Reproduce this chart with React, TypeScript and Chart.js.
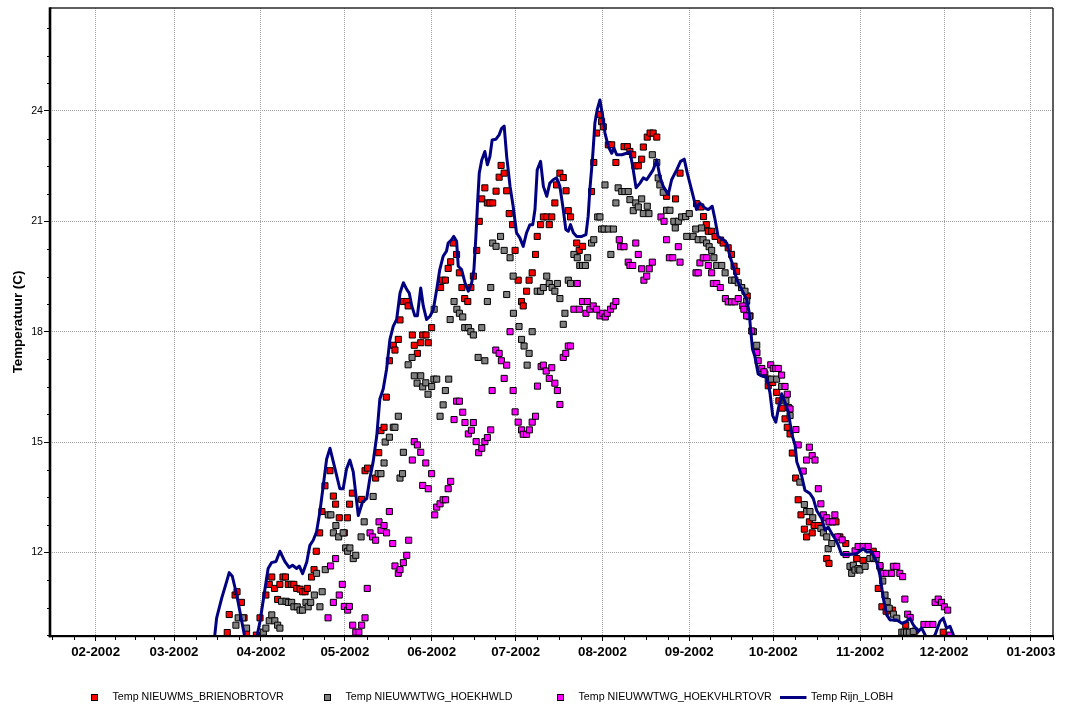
import { useEffect, useRef } from 'react';
import { Chart, registerables } from 'chart.js';

Chart.register(...registerables);

const FONT = '"Liberation Sans", Arial, Helvetica, sans-serif';

// Days are counted from 1 January 2002 (= day 0).
const monthTickDays = [31, 59, 90, 120, 151, 181, 212, 243, 273, 304, 334, 365];
const monthTickLabels = [
  '02-2002', '03-2002', '04-2002', '05-2002', '06-2002', '07-2002',
  '08-2002', '09-2002', '10-2002', '11-2002', '12-2002', '01-2003',
];
// month starts used for the quarter-month minor tick marks (1 Jan 2002 .. 1 Feb 2003)
const monthBoundaries = [0, ...monthTickDays, 396];
const tempTicks = [12, 15, 18, 21, 24];

const seriesNames = [
  'Temp NIEUWMS_BRIENOBRTOVR',
  'Temp NIEUWWTWG_HOEKHWLD',
  'Temp NIEUWWTWG_HOEKVHLRTOVR',
  'Temp Rijn_LOBH',
];

// Temp NIEUWMS_BRIENOBRTOVR
const brienDays = [
  78.0, 78.7, 80.8, 81.5, 83.1, 84.0, 84.9, 88.4, 89.7, 91.8, 93.0, 93.9, 94.9, 96.0, 96.8, 97.9,
  98.8, 99.8, 100.9, 101.8, 102.8, 104.0, 104.9, 105.8, 106.6, 108.1, 109.0, 109.8, 111.0, 111.8,
  112.9, 114.7, 115.9, 116.7, 118.0, 119.8, 120.9, 121.7, 122.7, 126.0, 127.2, 128.1, 131.0, 132.1,
  132.9, 134.0, 134.8, 135.9, 137.3, 137.9, 139.1, 139.7, 140.9, 142.1, 142.6, 144.1, 144.8, 145.9,
  147.1, 147.8, 149.0, 149.8, 151.0, 154.2, 154.9, 155.9, 156.9, 157.8, 158.7, 159.9, 160.9, 161.8,
  162.8, 163.9, 165.0, 165.9, 167.1, 168.0, 168.9, 170.0, 170.9, 171.8, 172.8, 174.0, 175.1, 175.8,
  176.9, 177.8, 178.7, 179.9, 180.8, 181.9, 183.1, 183.7, 184.9, 185.8, 186.9, 188.1, 188.7, 189.9,
  190.9, 192.1, 193.0, 193.9, 195.0, 195.6, 196.8, 198.0, 199.0, 199.8, 200.6, 202.8, 203.7, 204.9,
  208.1, 208.9, 209.9, 211.1, 211.7, 212.3, 214.1, 215.3, 216.8, 219.7, 220.9, 221.8, 222.8, 223.6,
  224.8, 226.0, 226.6, 228.0, 229.0, 230.1, 231.4, 234.9, 238.1, 239.7, 245.6, 247.1, 248.1, 249.1,
  249.8, 251.0, 252.2, 254.2, 255.1, 256.9, 258.1, 259.0, 259.9, 261.7, 263.7, 264.7, 267.1, 270.0,
  271.2, 272.8, 274.2, 275.0, 276.2, 277.2, 278.0, 279.0, 279.8, 281.0, 281.9, 282.9, 284.1, 284.9,
  285.9, 286.9, 287.6, 289.1, 292.1, 292.9, 293.9, 295.4, 296.8, 298.9, 302.8, 305.1, 308.7, 310.5,
  311.8, 313.3, 315.6, 320.3, 323.6, 333.7,
];
const brienTemps = [
  9.82, 10.31, 10.84, 10.93, 10.64, 10.22, 9.82, 9.75, 10.22, 10.84, 11.13, 11.33, 11.02, 10.72, 11.13, 11.33,
  11.33, 11.13, 11.13, 11.13, 11.02, 11.0, 10.93, 10.93, 11.02, 11.33, 11.53, 12.03, 12.53, 13.11,
  13.81, 14.22, 13.53, 13.31, 12.94, 12.53, 12.94, 13.31, 13.61, 13.44, 14.22, 14.29, 14.02, 14.71,
  15.31, 15.4, 16.22, 17.21, 17.63, 17.5, 17.79, 18.32, 18.82, 18.82, 18.7, 17.91, 17.63, 17.41,
  17.7, 17.91, 17.91, 17.7, 18.11, 19.2, 19.4, 19.4, 19.72, 19.9, 20.41, 20.1, 19.6, 19.2,
  18.9, 18.82, 19.2, 19.51, 20.21, 21.0, 21.61, 21.91, 21.5, 21.5, 21.5, 21.82, 22.2, 22.52,
  22.31, 21.83, 21.21, 20.91, 20.21, 19.4, 18.82, 18.7, 19.1, 19.4, 19.6, 20.1, 20.59, 20.91,
  21.12, 21.12, 20.91, 21.12, 21.5, 21.99, 22.31, 22.19, 21.83, 21.29, 21.12, 20.41, 20.21, 20.32,
  21.81, 22.6, 23.4, 23.91, 23.71, 23.57, 23.08, 23.08, 22.6, 23.03, 23.03, 22.9, 22.81, 22.51,
  22.51, 22.69, 23.02, 23.29, 23.4, 23.4, 23.29, 21.68, 21.61, 22.31, 21.48, 21.39, 21.13, 20.91,
  20.73, 20.73, 20.59, 20.49, 20.41, 20.28, 20.1, 19.78, 19.64, 19.2, 18.97, 18.43, 17.43, 16.85,
  16.53, 16.62, 16.35, 16.12, 15.92, 15.63, 15.4, 15.22, 14.7, 14.02, 13.43, 13.02, 12.63, 12.42,
  12.83, 12.53, 12.73, 12.73, 11.83, 11.7, 12.83, 12.83, 12.42, 12.24, 11.83, 11.78, 12.03, 11.02,
  10.52, 10.4, 10.43, 10.02, 9.86, 9.83,
];

// Temp NIEUWWTWG_HOEKHWLD
const hoekDays = [
  81.1, 81.9, 83.5, 84.9, 90.9, 91.8, 93.0, 93.9, 95.0, 96.0, 96.8, 97.4, 99.0, 99.8, 101.0, 101.8,
  103.0, 104.0, 104.9, 106.1, 106.9, 107.8, 109.1, 109.9, 111.1, 111.9, 113.0, 114.1, 115.0, 115.9,
  116.8, 117.8, 119.4, 120.3, 121.0, 121.8, 123.0, 123.9, 125.8, 126.9, 130.1, 131.9, 132.9, 134.0,
  134.4, 135.9, 137.3, 137.9, 139.1, 139.7, 140.6, 140.9, 142.6, 144.0, 144.8, 145.8, 147.1, 147.8,
  148.9, 149.7, 151.0, 151.8, 151.9, 152.8, 154.0, 155.1, 155.9, 157.1, 157.6, 159.0, 160.0, 160.9,
  162.1, 162.8, 164.1, 165.0, 165.9, 167.6, 168.9, 170.0, 170.9, 172.1, 172.8, 174.0, 175.6, 176.9,
  177.8, 179.0, 180.1, 180.2, 182.2, 183.1, 184.0, 185.1, 185.8, 186.9, 188.7, 189.9, 190.9, 192.1,
  193.0, 194.0, 195.0, 195.9, 196.8, 198.0, 198.6, 199.8, 200.6, 201.8, 203.0, 203.9, 204.9, 205.9,
  206.7, 208.1, 208.9, 210.3, 211.1, 211.7, 212.6, 212.9, 214.1, 215.0, 215.9, 216.8, 217.6, 218.9,
  220.0, 221.2, 221.8, 223.0, 223.9, 224.8, 226.0, 226.6, 228.0, 228.6, 229.8, 231.4, 231.9, 232.5,
  233.7, 234.9, 236.1, 237.5, 238.0, 239.1, 240.3, 241.7, 242.1, 243.0, 244.4, 245.3, 246.2, 247.4,
  247.9, 249.2, 250.1, 251.0, 251.8, 252.8, 254.6, 255.8, 258.1, 259.3, 260.5, 261.7, 262.9, 263.5,
  264.4, 265.9, 267.1, 268.9, 271.2, 272.4, 274.2, 276.0, 277.5, 278.4, 279.0, 282.5, 284.1, 284.9,
  286.1, 287.1, 290.0, 290.9, 292.1, 292.6, 293.9, 300.4, 301.0, 301.6, 302.2, 303.3, 303.9, 305.8,
  307.5, 308.7, 309.7, 311.1, 312.1, 312.9, 313.7, 314.4, 315.9, 317.1, 318.9, 319.7, 320.6, 321.6,
  323.0,
];
const hoekTemps = [
  10.02, 10.22, 10.22, 9.94, 9.83, 9.94, 10.14, 10.3, 10.14, 10.02, 9.94, 10.67, 10.67, 10.64, 10.64, 10.52,
  10.52, 10.43, 10.43, 10.64, 10.52, 10.64, 10.84, 11.43, 10.52, 10.93, 11.53, 13.02, 13.02, 12.53,
  12.73, 12.42, 12.53, 12.12, 12.03, 12.12, 11.83, 11.92, 12.42, 12.83, 13.52, 14.14, 14.14, 14.43,
  15.0, 15.13, 15.4, 15.4, 15.7, 14.02, 14.14, 14.72, 17.1, 17.3, 16.8, 16.6, 16.8, 16.5,
  16.61, 16.3, 16.51, 16.71, 18.61, 16.71, 15.7, 16.01, 16.4, 16.71, 18.33, 18.82, 18.61, 18.5,
  18.4, 18.11, 18.11, 18.0, 17.91, 17.3, 18.11, 17.21, 18.82, 19.2, 20.41, 20.32, 20.59, 20.21,
  19.01, 20.01, 19.51, 18.5, 18.14, 17.79, 17.61, 17.09, 17.41, 18.0, 19.1, 19.1, 19.2, 19.51,
  19.31, 19.2, 19.1, 19.31, 18.9, 18.2, 18.5, 19.4, 19.31, 20.1, 20.01, 19.8, 19.8, 19.8,
  20.01, 20.41, 20.5, 21.12, 21.12, 20.79, 20.79, 21.99, 20.79, 20.1, 20.79, 21.5, 21.91, 21.81,
  21.81, 21.81, 21.59, 21.29, 21.5, 21.39, 21.61, 21.21, 21.41, 21.21, 22.81, 22.6, 22.18, 21.99,
  21.79, 21.3, 21.3, 21.0, 20.82, 21.0, 21.12, 21.13, 20.59, 21.21, 20.59, 20.79, 20.5, 20.82,
  20.5, 20.41, 20.31, 20.21, 20.01, 19.8, 19.8, 19.6, 19.4, 19.4, 19.33, 19.2, 19.1, 18.83,
  18.41, 18.0, 17.63, 16.89, 16.71, 16.71, 16.71, 16.51, 16.12, 15.94, 15.72, 13.91, 13.3, 13.11,
  13.11, 12.94, 12.65, 12.53, 12.42, 12.1, 12.24, 11.62, 11.43, 11.65, 11.52, 11.56, 11.52, 11.62,
  11.83, 11.85, 11.83, 11.62, 11.22, 10.84, 10.66, 10.48, 10.32, 10.21, 9.83, 9.83, 9.83, 9.83,
  9.85,
];

// Temp NIEUWWTWG_HOEKVHLRTOVR
const hoekvDays = [
  114.0, 114.9, 115.9, 116.7, 118.0, 119.1, 119.8, 121.0, 121.6, 122.8, 123.9, 125.0, 126.0, 127.2,
  128.0, 129.0, 129.9, 131.0, 132.2, 132.9, 134.0, 134.9, 135.9, 137.1, 137.9, 139.1, 139.7, 140.9,
  142.1, 142.8, 144.1, 144.8, 145.9, 147.1, 147.8, 148.9, 149.8, 151.0, 152.1, 152.8, 154.0, 155.1,
  156.0, 156.9, 157.8, 159.0, 159.9, 160.9, 162.1, 162.9, 164.1, 165.2, 165.9, 166.9, 167.8, 168.9,
  170.0, 170.9, 172.1, 172.6, 173.9, 175.1, 175.9, 176.9, 177.8, 179.0, 180.1, 180.8, 181.9, 183.1,
  183.7, 184.9, 185.9, 186.9, 188.1, 188.8, 190.1, 190.9, 191.9, 193.0, 193.9, 195.0, 195.9, 196.8,
  198.0, 198.9, 199.8, 200.6, 201.8, 203.0, 203.7, 204.9, 206.1, 206.6, 207.5, 208.7, 209.9, 211.1,
  212.1, 213.0, 213.7, 214.9, 215.9, 216.8, 218.0, 218.5, 219.7, 221.2, 221.8, 222.8, 223.9, 224.8,
  226.0, 226.8, 227.8, 228.7, 229.8, 232.9, 234.0, 234.9, 235.9, 237.1, 239.1, 239.7, 245.4, 246.2,
  246.8, 248.0, 249.2, 249.8, 251.0, 251.6, 252.8, 254.1, 255.9, 256.9, 258.1, 259.3, 260.5, 262.1,
  262.5, 263.5, 265.3, 267.1, 267.6, 268.9, 269.7, 272.1, 273.0, 273.9, 274.8, 276.0, 277.2, 278.0,
  279.0, 281.1, 281.9, 283.7, 284.9, 285.9, 286.9, 287.9, 289.1, 290.0, 290.9, 292.1, 292.9, 294.2,
  295.0, 296.0, 297.6, 299.0, 302.2, 303.3, 305.1, 306.9, 309.9, 311.1, 312.3, 313.5, 315.3, 315.9,
  317.1, 318.2, 319.2, 320.0, 321.0, 321.9, 326.8, 328.4, 330.0, 330.8, 331.9, 333.1, 334.1, 335.3,
  336.1,
];
const hoekvTemps = [
  10.22, 11.63, 10.64, 11.83, 10.84, 11.13, 10.53, 10.43, 10.53, 10.02, 9.83, 9.83, 10.02, 10.22,
  11.02, 12.53, 12.42, 12.33, 12.83, 12.6, 12.73, 12.53, 13.11, 12.24, 11.63, 11.43, 11.53, 11.72,
  11.92, 12.33, 14.51, 15.01, 14.92, 14.72, 13.82, 14.43, 13.73, 14.14, 13.02, 13.23, 13.32, 13.43,
  13.43, 13.73, 13.93, 15.61, 16.11, 16.11, 15.81, 15.53, 15.22, 15.32, 15.53, 15.01, 14.71, 14.83,
  15.01, 15.12, 15.33, 16.4, 17.5, 17.41, 17.21, 16.73, 17.09, 18.0, 16.4, 15.82, 15.54, 15.33,
  15.21, 15.21, 15.33, 15.54, 15.7, 16.52, 17.05, 17.09, 16.93, 16.73, 17.02, 16.6, 16.4, 16.02,
  17.3, 17.41, 17.61, 17.61, 18.61, 19.31, 18.61, 18.82, 18.5, 18.82, 18.61, 18.7, 18.61, 18.43,
  18.5, 18.4, 18.5, 18.61, 18.7, 18.82, 20.5, 20.31, 20.31, 19.89, 19.8, 19.8, 20.41, 20.1,
  19.71, 19.4, 19.51, 19.71, 19.89, 21.12, 21.0, 20.5, 20.01, 20.01, 20.31, 19.89, 19.6, 19.6,
  19.87, 20.01, 20.01, 19.8, 19.6, 19.31, 19.31, 19.2, 18.9, 18.81, 18.81, 18.81, 18.9, 18.7,
  18.61, 18.43, 18.02, 17.43, 17.21, 17.0, 16.91, 17.1, 17.0, 17.0, 17.0, 16.82, 16.51, 16.3,
  15.9, 15.34, 14.92, 14.21, 14.51, 14.86, 14.63, 14.51, 13.73, 13.32, 13.02, 12.94, 12.83, 12.83,
  13.02, 12.42, 12.34, 11.94, 12.04, 12.16, 12.16, 12.16, 11.94, 11.64, 11.43, 11.43, 11.43, 11.62,
  11.62, 11.43, 11.34, 10.73, 10.32, 10.23, 10.04, 10.04, 10.04, 10.64, 10.73, 10.64, 10.52, 10.43,
  9.75,
];

// Temp Rijn_LOBH
const rijnDays = [
  73.3, 74.2, 76.0, 77.8, 78.7, 79.8, 81.4, 82.5, 84.1, 86.1, 87.5, 88.7, 89.7, 91.5, 92.6, 93.8,
  95.4, 96.8, 98.6, 100.1, 101.3, 102.8, 103.7, 104.9, 106.4, 107.5, 108.7, 109.9, 111.1, 112.3,
  113.5, 114.7, 116.5, 118.2, 119.4, 120.6, 121.8, 123.0, 124.8, 126.3, 127.8, 128.9, 130.1, 131.4,
  132.5, 133.7, 134.9, 136.1, 137.3, 138.5, 139.7, 140.9, 142.1, 143.0, 143.9, 145.0, 145.9, 147.1,
  148.0, 149.2, 150.4, 151.6, 152.8, 153.9, 155.1, 156.3, 156.9, 158.1, 158.9, 159.9, 160.5, 161.7,
  162.9, 164.1, 165.3, 166.1, 166.8, 167.4, 168.0, 168.9, 170.0, 170.9, 171.8, 172.6, 173.9, 175.1,
  176.0, 176.9, 177.8, 179.0, 180.1, 181.3, 182.5, 183.7, 184.9, 186.1, 187.1, 187.9, 188.7, 189.9,
  190.9, 192.1, 193.2, 194.4, 195.6, 196.8, 198.0, 198.9, 199.8, 200.6, 201.6, 202.8, 204.6, 206.1,
  206.9, 207.5, 208.5, 209.3, 210.1, 211.1, 212.1, 212.9, 214.1, 215.3, 216.1, 217.1, 218.9, 220.6,
  221.8, 222.8, 224.0, 225.4, 226.6, 227.8, 229.0, 230.1, 231.4, 232.5, 233.7, 235.5, 236.7, 238.5,
  239.9, 241.2, 242.3, 243.8, 245.6, 246.8, 248.6, 249.8, 251.2, 252.2, 253.3, 255.1, 256.4, 257.5,
  258.7, 259.9, 261.7, 263.5, 264.4, 264.9, 265.6, 266.4, 267.6, 268.8, 270.6, 271.8, 272.8, 273.9,
  274.8, 276.0, 277.2, 278.4, 279.6, 280.8, 281.4, 283.1, 284.3, 286.1, 287.3, 288.5, 290.3, 291.5,
  292.6, 293.9, 295.0, 296.2, 297.4, 300.4, 302.8, 305.1, 306.4, 308.1, 309.9, 311.1, 312.3, 313.5,
  314.7, 317.1, 318.9, 320.6, 321.8, 323.0, 324.8, 326.0, 327.2, 328.6, 330.8, 332.5, 333.7, 334.9,
  336.1, 337.3, 337.9,
];
const rijnTemps = [
  9.57, 10.21, 10.75, 11.21, 11.45, 11.35, 10.84, 10.4, 9.76, 9.12, 9.39, 9.75, 10.12, 11.02, 11.56, 11.72,
  11.75, 12.03, 11.75, 11.59, 11.65, 11.56, 11.63, 11.42, 11.74, 12.19, 12.33, 12.56, 13.11, 13.82,
  14.54, 14.83, 14.27, 13.73, 13.73, 14.27, 14.51, 14.19, 13.0, 13.37, 13.46, 14.0, 14.46, 15.17,
  16.17, 16.44, 16.98, 17.79, 18.15, 18.33, 19.05, 19.33, 19.15, 19.05, 18.7, 18.43, 18.43, 19.19,
  18.7, 18.33, 18.42, 18.6, 19.15, 19.69, 20.05, 20.19, 20.41, 20.5, 20.59, 20.46, 19.78, 19.69,
  19.33, 19.1, 19.33, 19.69, 20.59, 21.5, 22.31, 22.67, 22.9, 22.54, 22.76, 23.21, 23.23, 23.35,
  23.53, 23.59, 22.76, 21.95, 21.41, 20.69, 20.55, 20.32, 20.69, 20.91, 20.91, 21.32, 22.4, 22.63,
  21.95, 21.68, 22.04, 22.13, 22.18, 21.95, 21.32, 20.78, 20.73, 20.91, 20.69, 20.59, 20.59, 20.64,
  21.14, 21.86, 22.76, 23.67, 24.03, 24.3, 23.85, 23.4, 23.03, 22.85, 22.99, 22.81, 22.81, 22.85,
  22.9, 22.49, 21.91, 22.04, 22.18, 22.13, 22.27, 22.4, 22.67, 22.22, 21.95, 21.73, 22.13, 22.4,
  22.63, 22.69, 22.31, 21.86, 21.32, 21.5, 21.36, 21.32, 21.41, 21.05, 20.59, 20.5, 20.41, 20.05,
  19.78, 19.42, 19.15, 18.88, 18.52, 18.07, 17.52, 17.34, 16.85, 16.8, 16.76, 16.35, 15.72, 15.54,
  15.9, 16.31, 16.08, 15.81, 15.22, 14.91, 14.46, 14.09, 13.69, 13.6, 13.46, 13.14, 12.92, 12.6,
  12.69, 12.51, 12.38, 12.2, 11.94, 11.94, 11.97, 12.1, 12.01, 12.02, 11.74, 11.38, 10.75, 10.3,
  10.16, 10.16, 10.07, 10.12, 10.21, 10.03, 9.85, 9.94, 9.76, 9.53, 9.76, 10.12, 10.21, 9.94,
  9.99, 9.76, 9.53,
];

const DAY_MIN = 14.7;
const DAY_MAX = 372.9;
const TEMP_MIN = 9.726;
const TEMP_MAX = 26.8;
const TEMP_MINOR_STEP = 0.75;

const markerColors = ['#ff0000', '#808080', '#ff00ff'];
const lineColor = '#000080';

const toPoints = (days: number[], temps: number[]) => days.map((d, i) => ({ x: d, y: temps[i] }));

const scatterStyle = (color: string, order: number) => ({
  showLine: false,
  pointStyle: 'rect' as const,
  pointRadius: 4.3,
  pointHoverRadius: 4.3,
  pointBackgroundColor: color,
  pointBorderColor: '#000',
  pointBorderWidth: 1,
  backgroundColor: color,
  borderColor: '#000',
  order,
});

// Minor tick marks, plot frame and the legend row underneath the chart.
const frameAndLegend = {
  id: 'frameAndLegend',
  afterDraw(chart: any) {
    const { ctx, chartArea: a } = chart;
    const xs = chart.scales.x;
    const ys = chart.scales.y;
    ctx.save();

    ctx.strokeStyle = '#000';
    ctx.lineWidth = 1;
    ctx.beginPath();
    for (let i = 0; i < monthBoundaries.length - 1; i++) {
      const d0 = monthBoundaries[i];
      const d1 = monthBoundaries[i + 1];
      for (let k = 1; k < 4; k++) {
        const d = d0 + ((d1 - d0) * k) / 4;
        if (d < DAY_MIN || d > DAY_MAX) continue;
        const px = Math.round(xs.getPixelForValue(d)) + 0.5;
        ctx.moveTo(px, a.bottom);
        ctx.lineTo(px, a.bottom + 4);
      }
    }
    for (let v = 9.75; v < TEMP_MAX; v += TEMP_MINOR_STEP) {
      if (tempTicks.some((t) => Math.abs(t - v) < 1e-6)) continue;
      const py = Math.round(ys.getPixelForValue(v)) + 0.5;
      ctx.moveTo(a.left - 3, py);
      ctx.lineTo(a.left, py);
    }
    ctx.stroke();

    // frame: heavy left and bottom axes, thin top and right edges
    ctx.fillStyle = '#1a1a1a';
    ctx.fillRect(a.left, a.top - 0.7, a.right - a.left, 1.4);
    ctx.fillRect(a.right - 0.7, a.top, 1.4, a.bottom - a.top);
    ctx.fillStyle = '#000';
    ctx.fillRect(a.left - 1.3, a.top - 0.7, 2.6, a.bottom - a.top + 2);
    ctx.fillRect(a.left - 1.3, a.bottom - 1, a.right - a.left + 2, 2.2);

    // legend
    const ly = 697.5;
    const step = 233;
    const x0 = 94.5;
    ctx.font = `10.67px ${FONT}`;
    ctx.textBaseline = 'middle';
    ctx.textAlign = 'left';
    for (let i = 0; i < 3; i++) {
      const cx = x0 + step * i;
      ctx.fillStyle = markerColors[i];
      ctx.fillRect(cx - 3, ly - 3, 6, 6);
      ctx.strokeStyle = '#000';
      ctx.lineWidth = 1;
      ctx.strokeRect(cx - 3, ly - 3, 6, 6);
      ctx.fillStyle = '#000';
      ctx.fillText(seriesNames[i], cx + 18, ly);
    }
    const lx = x0 + step * 3;
    ctx.strokeStyle = lineColor;
    ctx.lineWidth = 3;
    ctx.beginPath();
    ctx.moveTo(lx - 13.5, ly);
    ctx.lineTo(lx + 13, ly);
    ctx.stroke();
    ctx.fillStyle = '#000';
    ctx.fillText(seriesNames[3], lx + 17.5, ly);

    ctx.restore();
  },
};

export default function App() {
  const canvasRef = useRef<HTMLCanvasElement | null>(null);

  useEffect(() => {
    const canvas = canvasRef.current;
    if (!canvas) return;

    const chart = new Chart(canvas, {
      type: 'scatter',
      data: {
        datasets: [
          { label: seriesNames[0], data: toPoints(brienDays, brienTemps), ...scatterStyle(markerColors[0], 3) },
          { label: seriesNames[1], data: toPoints(hoekDays, hoekTemps), ...scatterStyle(markerColors[1], 2) },
          { label: seriesNames[2], data: toPoints(hoekvDays, hoekvTemps), ...scatterStyle(markerColors[2], 1) },
          {
            label: seriesNames[3],
            data: toPoints(rijnDays, rijnTemps),
            showLine: true,
            pointRadius: 0,
            pointHoverRadius: 0,
            borderColor: lineColor,
            backgroundColor: lineColor,
            borderWidth: 3,
            borderJoinStyle: 'round',
            borderCapStyle: 'round',
            tension: 0,
            order: 0,
          } as any,
        ],
      },
      options: {
        animation: false,
        responsive: false,
        devicePixelRatio: 1,
        events: [],
        layout: { padding: { left: 0, top: 8, right: 12, bottom: 0 } },
        plugins: {
          legend: { display: false },
          tooltip: { enabled: false },
          title: { display: false },
        },
        scales: {
          x: {
            type: 'linear',
            position: 'bottom',
            min: DAY_MIN,
            max: DAY_MAX,
            afterBuildTicks: (scale: any) => {
              scale.ticks = monthTickDays.map((v) => ({ value: v }));
            },
            afterFit: (scale: any) => {
              scale.height = 70;
            },
            ticks: {
              autoSkip: false,
              maxRotation: 0,
              minRotation: 0,
              padding: 3,
              color: '#000',
              font: { family: FONT, size: 13.33, weight: 'bold' },
              callback: (_v: any, i: number) => monthTickLabels[i],
            },
            grid: {
              color: '#a0a0a0',
              lineWidth: 1,
              drawTicks: true,
              tickLength: 5,
              tickColor: '#000',
              tickWidth: 1,
              tickBorderDash: [],
            },
            border: { display: false, dash: [1, 1] },
          },
          y: {
            type: 'linear',
            position: 'left',
            min: TEMP_MIN,
            max: TEMP_MAX,
            afterBuildTicks: (scale: any) => {
              scale.ticks = tempTicks.map((v) => ({ value: v }));
            },
            afterFit: (scale: any) => {
              scale.width = 50;
            },
            ticks: {
              padding: 1,
              color: '#000',
              font: { family: FONT, size: 10.67 },
              callback: (v: any) => String(v),
            },
            grid: {
              color: '#a0a0a0',
              lineWidth: 1,
              drawTicks: true,
              tickLength: 6,
              tickColor: '#000',
              tickWidth: 1,
              tickBorderDash: [],
            },
            border: { display: false, dash: [1, 1] },
            title: {
              display: true,
              text: 'Temperatuur (C)',
              color: '#000',
              font: { family: FONT, size: 13.33, weight: 'bold' },
              padding: { top: 10, bottom: 0 },
            },
          },
        },
      } as any,
      plugins: [frameAndLegend],
    });

    return () => chart.destroy();
  }, []);

  return (
    <div style={{ position: 'fixed', left: 0, top: 0, width: 1065, height: 706, background: '#fff' }}>
      <canvas ref={canvasRef} width={1065} height={706} style={{ display: 'block', width: 1065, height: 706 }} />
    </div>
  );
}
